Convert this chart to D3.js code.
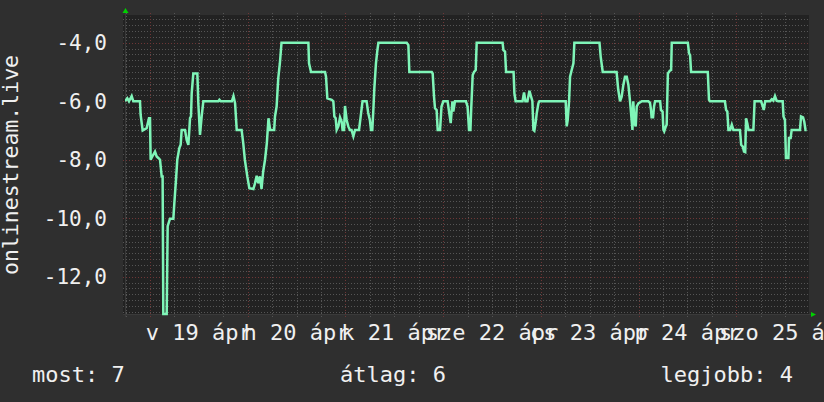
<!DOCTYPE html>
<html><head><meta charset="utf-8">
<script src="https://cdn.jsdelivr.net/npm/d3@7"></script>
<style>html,body{margin:0;padding:0;background:#2f2f2f;overflow:hidden}</style>
</head><body><svg id="c" width="824" height="402"></svg>
<script>
// hours relative to Apr 19 00:00
const hours = [
-6.14,-5.57,-5.16,-4.5,-4.1,-2.46,-2.3,-1.8,-0.82,-0.25,0,0.16,0.57,1.23,1.64,2.05,2.46,2.87,3.1,3.27,4.1,4.34,4.9,5.73,5.98,6.39,6.7,7.2,7.53,7.78,8.6,9.0,9.42,9.66,9.83,10.07,10.24,10.64,11.63,11.87,12.28,12.69,13.1,16.8,17.05,17.4,20.1,20.5,20.9,21.3,22.5,22.9,23.3,23.9,24.4,25.4,25.8,26.2,26.6,27.0,27.4,27.8,28.25,28.7,29.1,29.5,30.5,30.7,31.1,31.5,31.9,32.3,
38.9,39.06,39.55,42.99,43.23,43.56,44.63,45.03,45.28,45.6,45.85,46.26,46.67,47.08,47.3,47.66,47.9,48.3,48.7,49.1,49.5,49.95,50.36,51.34,51.75,52.2,53.2,53.6,54.0,54.29,54.6,54.86,55.1,55.5,55.85,56.1,63.05,63.46,63.7,69.2,69.43,69.76,70.0,70.4,70.66,71.24,71.6,72.05,73.1,73.45,73.86,74.27,74.5,74.9,77.6,78.0,78.36,78.7,78.9,79.26,79.6,80.0,80.24,
86.6,86.8,87.2,87.46,89.3,89.5,89.8,91.5,91.87,92.2,92.7,93.2,93.6,93.92,94.17,94.4,94.74,95.0,95.4,95.64,102.1,102.35,102.6,102.93,103.17,103.58,104.0,104.23,110.4,110.7,111.2,114.6,115.0,115.45,115.85,116.26,116.67,117.1,117.5,117.9,118.15,118.5,118.7,119.0,119.3,119.55,119.96,120.8,
122.4,122.8,123.06,123.2,123.56,123.8,124.05,125.3,125.5,125.9,126.1,126.3,126.7,126.9,127.2,127.5,127.7,128.0,128.15,132.1,132.4,132.65,132.9,137.0,137.3,137.55,141.2,141.5,141.8,142.07,142.5,142.9,143.3,144.9,145.2,145.6,145.9,146.2,146.4,146.7,147.0,148.2,148.5,150.1,150.4,150.75,151.1,152.3,152.7,153.1,153.5,153.9,154.3,155.4,155.6,155.95,156.2,156.8,156.95,157.35,157.6,159.65,159.9,160.4,160.7,161.0,161.3];
const ranks = [
-6.0,-5.9,-6.0,-5.82,-6.0,-6.0,-6.47,-7.0,-6.92,-6.58,-6.58,-8.0,-7.89,-7.72,-7.89,-7.94,-8.0,-8.57,-8.57,-13.28,-13.28,-10.27,-10.02,-10.02,-9.48,-8.68,-8.0,-7.6,-7.49,-6.98,-6.98,-7.32,-7.49,-6.98,-6.58,-6.52,-5.73,-5.05,-5.05,-6.07,-7.15,-6.52,-6.0,-6.0,-5.95,-6.0,-6.0,-5.82,-6.07,-6.98,-6.98,-7.43,-8.0,-8.57,-8.97,-9.0,-8.8,-8.55,-8.8,-8.57,-9.0,-8.4,-8.0,-7.43,-6.58,-6.98,-6.98,-6.52,-6.18,-5.22,-4.7,-4.0,
-4.0,-4.7,-5.0,-5.0,-5.16,-5.9,-5.95,-6.0,-6.52,-6.58,-6.98,-6.86,-6.55,-6.7,-6.98,-6.98,-6.16,-6.64,-6.86,-6.98,-6.98,-7.2,-6.98,-6.98,-6.52,-6.0,-6.0,-6.4,-6.64,-6.98,-6.98,-6.3,-5.56,-4.7,-4.25,-4.0,-4.0,-4.08,-5.0,-5.0,-5.05,-5.84,-6.24,-6.3,-6.98,-6.98,-6.18,-6.0,-6.0,-6.35,-6.75,-6.0,-6.35,-6.0,-6.0,-6.18,-6.98,-6.98,-6.24,-5.1,-5.0,-4.93,-4.0,
-4.0,-4.25,-4.3,-5.0,-5.0,-5.73,-6.0,-6.0,-5.7,-6.0,-6.0,-5.64,-5.84,-6.0,-6.98,-7.01,-6.7,-6.4,-6.07,-6.0,-6.0,-6.86,-6.64,-6.0,-5.16,-4.93,-4.7,-4.0,-4.0,-4.48,-5.0,-5.0,-5.6,-6.0,-5.84,-5.44,-5.16,-5.16,-5.44,-6.0,-6.4,-6.98,-6.0,-6.75,-6.86,-6.18,-6.07,-6.0,
-6.0,-6.05,-6.3,-6.55,-6.55,-6.18,-6.0,-6.0,-6.3,-6.35,-6.98,-7.03,-6.86,-6.8,-5.05,-4.99,-4.95,-4.93,-4.0,-4.0,-4.36,-4.42,-5.0,-5.0,-5.95,-6.0,-6.0,-6.3,-6.35,-6.98,-6.98,-6.8,-6.98,-6.98,-7.49,-7.55,-7.72,-7.74,-6.58,-6.75,-6.98,-6.98,-6.0,-6.0,-6.13,-6.3,-6.0,-6.0,-5.93,-5.98,-5.82,-5.98,-6.0,-6.0,-6.52,-6.64,-7.94,-7.94,-7.26,-7.26,-6.98,-6.98,-6.52,-6.55,-6.7,-6.98,-6.98];
const yTicks = [-12, -10, -8, -6, -4];
const dayLabels = ["v 19 ápr", "h 20 ápr", "k 21 ápr", "sze 22 ápr", "cs 23 ápr", "p 24 ápr", "szo 25 ápr"];
const dayNoons = [12, 36, 60, 84, 108, 132, 156];
const legendLabels = ["most: 7", "átlag: 6", "legjobb: 4"];
const axisTitle = "onlinestream.live";

const W = 824, H = 402, L = 125, R = 809, T = 15, B = 315;
const FONT = "'DejaVu Sans Mono', monospace";
const svg = d3.select("#c");
const x = d3.scaleLinear().domain([-6.14, 161.86]).range([L, R]);
const y = d3.scaleLinear().domain([-13.31, -3.05]).range([B, T]);
const fmt = d3.formatLocale({decimal: ",", thousands: " ", grouping: [3], currency: ["", ""], minus: "-"}).format(".1f");

svg.append("rect").attr("width", W).attr("height", H).attr("fill", "#2f2f2f");
svg.append("rect").attr("x", L - 2).attr("y", T).attr("width", R - L + 2).attr("height", B - T).attr("fill", "#222222");

const g = svg.append("g");
// horizontal grid
const minorY = d3.range(-66, -15).map(d => d / 5).filter(v => Math.abs(v / 2 - Math.round(v / 2)) > 1e-6);
g.selectAll(".hm").data(minorY).join("line")
  .attr("x1", L - 2).attr("x2", R + 1)
  .attr("y1", d => Math.round(y(d)) + 0.5).attr("y2", d => Math.round(y(d)) + 0.5)
  .attr("stroke", "#555").attr("stroke-dasharray", "1,2");
// vertical grid
const minorX = d3.range(-6, 162, 6).filter(h => h % 24 !== 0);
g.selectAll(".vm").data(minorX).join("line")
  .attr("y1", T - 2).attr("y2", B + 2)
  .attr("x1", d => Math.round(x(d)) + 0.5).attr("x2", d => Math.round(x(d)) + 0.5)
  .attr("stroke", "#555").attr("stroke-dasharray", "1,2");
const majorX = d3.range(0, 162, 24);
g.selectAll(".vM").data(majorX).join("line")
  .attr("y1", T - 2).attr("y2", B + 3)
  .attr("x1", d => Math.round(x(d)) + 0.5).attr("x2", d => Math.round(x(d)) + 0.5)
  .attr("stroke", "#6e3636").attr("stroke-dasharray", "1,2");
g.selectAll(".hM").data(yTicks).join("line")
  .attr("x1", L - 2).attr("x2", R + 1)
  .attr("y1", d => Math.round(y(d)) + 0.5).attr("y2", d => Math.round(y(d)) + 0.5)
  .attr("stroke", "#6e3636").attr("stroke-dasharray", "1,2");

// axes lines (subtle)
svg.append("line").attr("x1", L + 0.5).attr("x2", L + 0.5).attr("y1", T - 2).attr("y2", B + 2).attr("stroke", "#3a3a3a");
svg.append("line").attr("x1", L - 2).attr("x2", R + 2).attr("y1", B - 0.5).attr("y2", B - 0.5).attr("stroke", "#3a3a3a");
// arrows
svg.append("path").attr("d", `M${L - 2.5},${T - 2} L${L + 0.5},${T - 7} L${L + 3.5},${T - 2} Z`).attr("fill", "#00d000");
svg.append("path").attr("d", `M${R + 2},${B - 3} L${R + 7},${B - 0.5} L${R + 2},${B + 2} Z`).attr("fill", "#00d000");

// y tick labels
svg.append("g").selectAll("text").data(yTicks).join("text")
  .attr("x", 107).attr("y", d => y(d)).attr("dy", "0.36em")
  .attr("text-anchor", "end").attr("fill", "#f0f0f0")
  .style("font-family", FONT).style("font-size", "21px")
  .text(d => fmt(d));

// x labels
svg.append("g").selectAll("text").data(dayLabels).join("text")
  .attr("x", (d, i) => x(dayNoons[i])).attr("y", 339.5)
  .attr("text-anchor", "middle").attr("fill", "#f0f0f0")
  .style("font-family", FONT).style("font-size", "22px")
  .text(d => d);

// axis title
svg.append("text").attr("transform", `translate(18,${(T + B) / 2}) rotate(-90)`)
  .attr("text-anchor", "middle").attr("fill", "#f0f0f0")
  .style("font-family", FONT).style("font-size", "21.5px").text(axisTitle);

// legend
const legendX = [32, 340, 660.5];
svg.append("g").selectAll("text").data(legendLabels).join("text")
  .attr("x", (d, i) => legendX[i]).attr("y", 381.5).attr("fill", "#f0f0f0")
  .style("font-family", FONT).style("font-size", "22px").text(d => d);

// data line
svg.append("clipPath").attr("id", "cp").append("rect").attr("x", L).attr("y", T - 2).attr("width", R - L).attr("height", B - T + 4);
const data = hours.map((h, i) => [h, ranks[i]]);
svg.append("path").datum(data).attr("clip-path", "url(#cp)")
  .attr("d", d3.line().x(d => x(d[0])).y(d => y(d[1])))
  .attr("fill", "none").attr("stroke", "#7ff5b8").attr("stroke-width", 2.5).attr("stroke-linejoin", "miter");
</script></body></html>
